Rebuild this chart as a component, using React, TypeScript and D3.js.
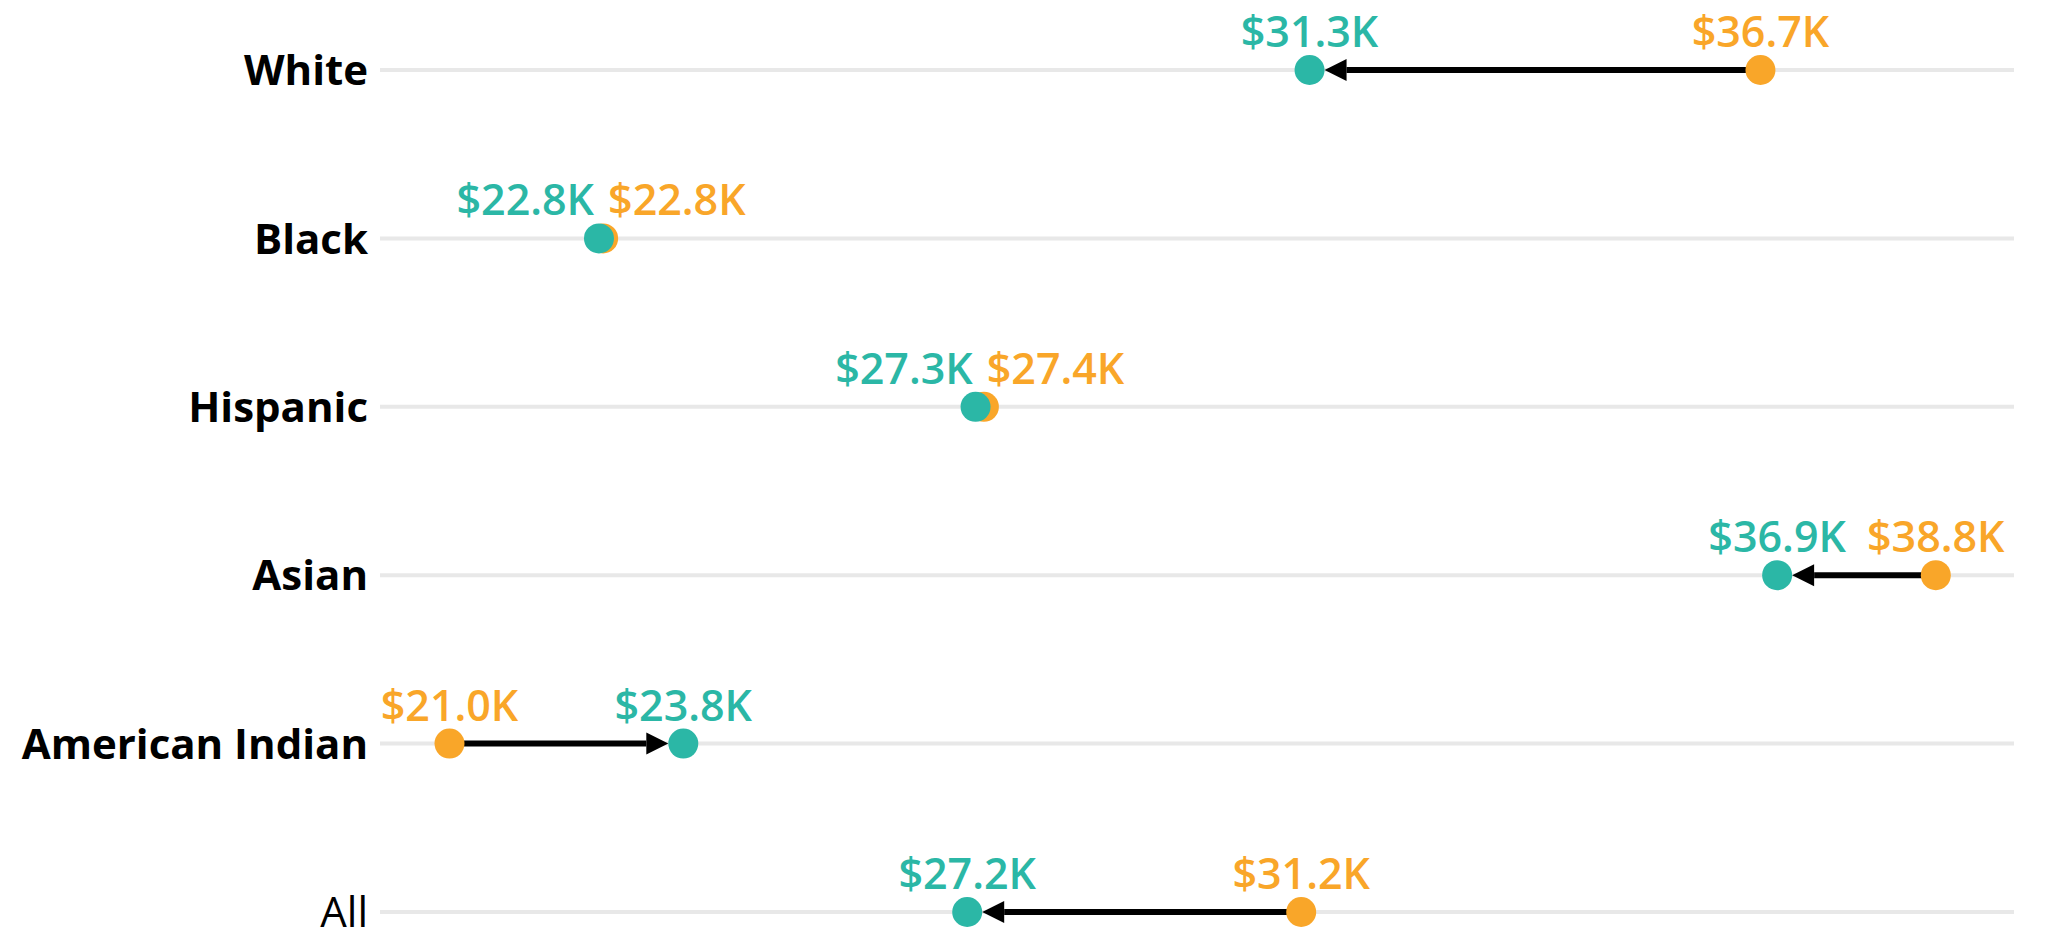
import React from 'react';
import * as d3 from 'd3';

// categories top to bottom
const categories = ['White', 'Black', 'Hispanic', 'Asian', 'American Indian', 'All'];
// orange = earlier value (arrow start), teal = later value (arrow end), in $K
const startValues = [36.7, 22.84, 27.4, 38.8, 21.0, 31.2];
const endValues = [31.3, 22.79, 27.3, 36.9, 23.8, 27.2];
const xDomain: [number, number] = [20, 40];

const WIDTH = 2067;
const HEIGHT = 939;
const ORANGE = '#f9a629';
const TEAL = '#2bb7a6';
const GRID = '#e8e8e8';

const fmt = (v: number) => `$${v.toFixed(1)}K`;

export default function App() {
  const lineStart = 380;
  const lineEnd = 2014;
  const labelRight = 368;
  const r = 15;
  const headLen = 22;
  const headHalf = 11;

  const x = d3.scaleLinear().domain(xDomain).range([366, 2036]);
  const y = d3.scalePoint<string>().domain(categories).range([70, 912]);

  return (
    <div style={{ position: 'absolute', left: 0, top: 0 }}>
      <svg width={WIDTH} height={HEIGHT} style={{ display: 'block' }} fontFamily="'Open Sans', sans-serif">
        {categories.map((cat, i) => {
          const cy = y(cat)!;
          const xs = x(startValues[i]);
          const xe = x(endValues[i]);
          const dir = xe > xs ? 1 : -1;
          const showArrow = Math.abs(xe - xs) > r * 2 + headLen;
          const tip = xe - dir * r;
          const base = tip - dir * headLen;

          // label placement, push apart when the dots sit too close
          const close = Math.abs(xe - xs) < 120;
          const mid = (xs + xe) / 2;
          const labels = [
            { v: startValues[i], px: xs, color: ORANGE },
            { v: endValues[i], px: xe, color: TEAL },
          ];
          const leftIdx = xs <= xe ? 0 : 1;

          return (
            <g key={cat}>
              <line x1={lineStart} x2={lineEnd} y1={cy} y2={cy} stroke={GRID} strokeWidth={4} />
              <text
                x={labelRight}
                y={cy}
                dy="0.36em"
                textAnchor="end"
                fontSize={42}
                fontWeight={cat === 'All' ? 400 : 700}
                fill="#000"
              >
                {cat}
              </text>
              {showArrow && (
                <g>
                  <line x1={xs} x2={base} y1={cy} y2={cy} stroke="#000" strokeWidth={6} />
                  <polygon
                    points={`${tip},${cy} ${base},${cy - headHalf} ${base},${cy + headHalf}`}
                    fill="#000"
                  />
                </g>
              )}
              <circle cx={xs} cy={cy} r={r} fill={ORANGE} />
              <circle cx={xe} cy={cy} r={r} fill={TEAL} />
              {labels.map((l, j) => {
                let tx = l.px;
                let anchor: 'middle' | 'start' | 'end' = 'middle';
                if (close) {
                  if (j === leftIdx) {
                    tx = mid - 7;
                    anchor = 'end';
                  } else {
                    tx = mid + 7;
                    anchor = 'start';
                  }
                }
                return (
                  <text
                    key={j}
                    x={tx}
                    y={cy - 23}
                    textAnchor={anchor}
                    fontSize={43}
                    fontWeight={600}
                    fill={l.color}
                  >
                    {fmt(l.v)}
                  </text>
                );
              })}
            </g>
          );
        })}
      </svg>
    </div>
  );
}
